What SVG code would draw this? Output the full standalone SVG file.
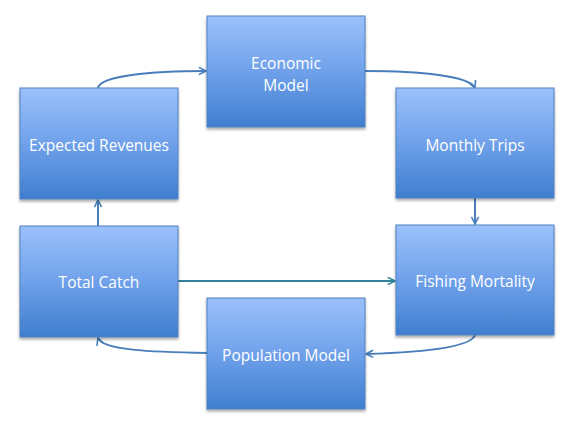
<svg xmlns="http://www.w3.org/2000/svg" width="574" height="424" viewBox="0 0 574 424">
<defs>
<linearGradient id="g" x1="0" y1="0" x2="0" y2="1">
<stop offset="0" stop-color="#9bc1fb"/>
<stop offset="0.5" stop-color="#6fa1ea"/>
<stop offset="1" stop-color="#3f7ecf"/>
</linearGradient>
<filter id="sh" x="-10%" y="-10%" width="130%" height="130%">
<feGaussianBlur in="SourceAlpha" stdDeviation="1.5"/>
<feOffset dx="0" dy="2"/>
<feComponentTransfer><feFuncA type="linear" slope="0.35"/></feComponentTransfer>
<feMerge><feMergeNode/><feMergeNode in="SourceGraphic"/></feMerge>
</filter>
<marker id="a" viewBox="0 0 10 10" refX="9" refY="5" markerWidth="9" markerHeight="9" markerUnits="userSpaceOnUse" orient="auto">
<path d="M1,1 L9,5 L1,9" fill="none" stroke="#4a7ebb" stroke-width="1.8"/>
</marker>
<marker id="at" viewBox="0 0 10 10" refX="9" refY="5" markerWidth="9" markerHeight="9" markerUnits="userSpaceOnUse" orient="auto">
<path d="M1,1 L9,5 L1,9" fill="none" stroke="#31849b" stroke-width="1.8"/>
</marker>
</defs>
<style>
.box{fill:url(#g);stroke:#4f81bd;stroke-width:1;filter:url(#sh)}
.t{font-family:"Open Sans","Liberation Sans",sans-serif;font-size:15.5px;fill:#fff;text-anchor:middle}
.c{fill:none;stroke:#4a7ebb;stroke-width:2}
</style>
<rect width="574" height="424" fill="#fff"/>
<g id="connectors">
<path class="c" d="M98,88 C100,76 150,71 206,71" marker-end="url(#a)"/>
<path class="c" d="M365,71 C420,71 470,76 475,88" marker-end="url(#a)"/>
<path class="c" d="M475,198 L475,224" marker-end="url(#a)"/>
<path class="c" d="M98,226 L98,200" marker-end="url(#a)"/>
<path class="c" d="M178,281 L395,281" style="stroke:#31849b" marker-end="url(#at)"/>
<path class="c" d="M475,335 C470,350 400,353 366,354" marker-end="url(#a)"/>
<path class="c" d="M207,353 C150,352 102,350 98,338" marker-end="url(#a)"/>
</g>
<g id="expected-revenues"><rect class="box" x="20" y="88" width="158" height="111"/><text class="t" x="99" y="151">Expected Revenues</text></g>
<g id="economic-model"><rect class="box" x="207" y="16" width="158" height="111"/><text class="t" x="286" y="69">Economic</text><text class="t" x="286" y="91">Model</text></g>
<g id="monthly-trips"><rect class="box" x="396" y="88" width="158" height="110"/><text class="t" x="475" y="151">Monthly Trips</text></g>
<g id="total-catch"><rect class="box" x="20" y="226" width="158" height="111"/><text class="t" x="99" y="288">Total Catch</text></g>
<g id="fishing-mortality"><rect class="box" x="396" y="225" width="158" height="110"/><text class="t" x="475" y="287">Fishing Mortality</text></g>
<g id="population-model"><rect class="box" x="207" y="298" width="158" height="111"/><text class="t" x="286" y="361">Population Model</text></g>
</svg>
